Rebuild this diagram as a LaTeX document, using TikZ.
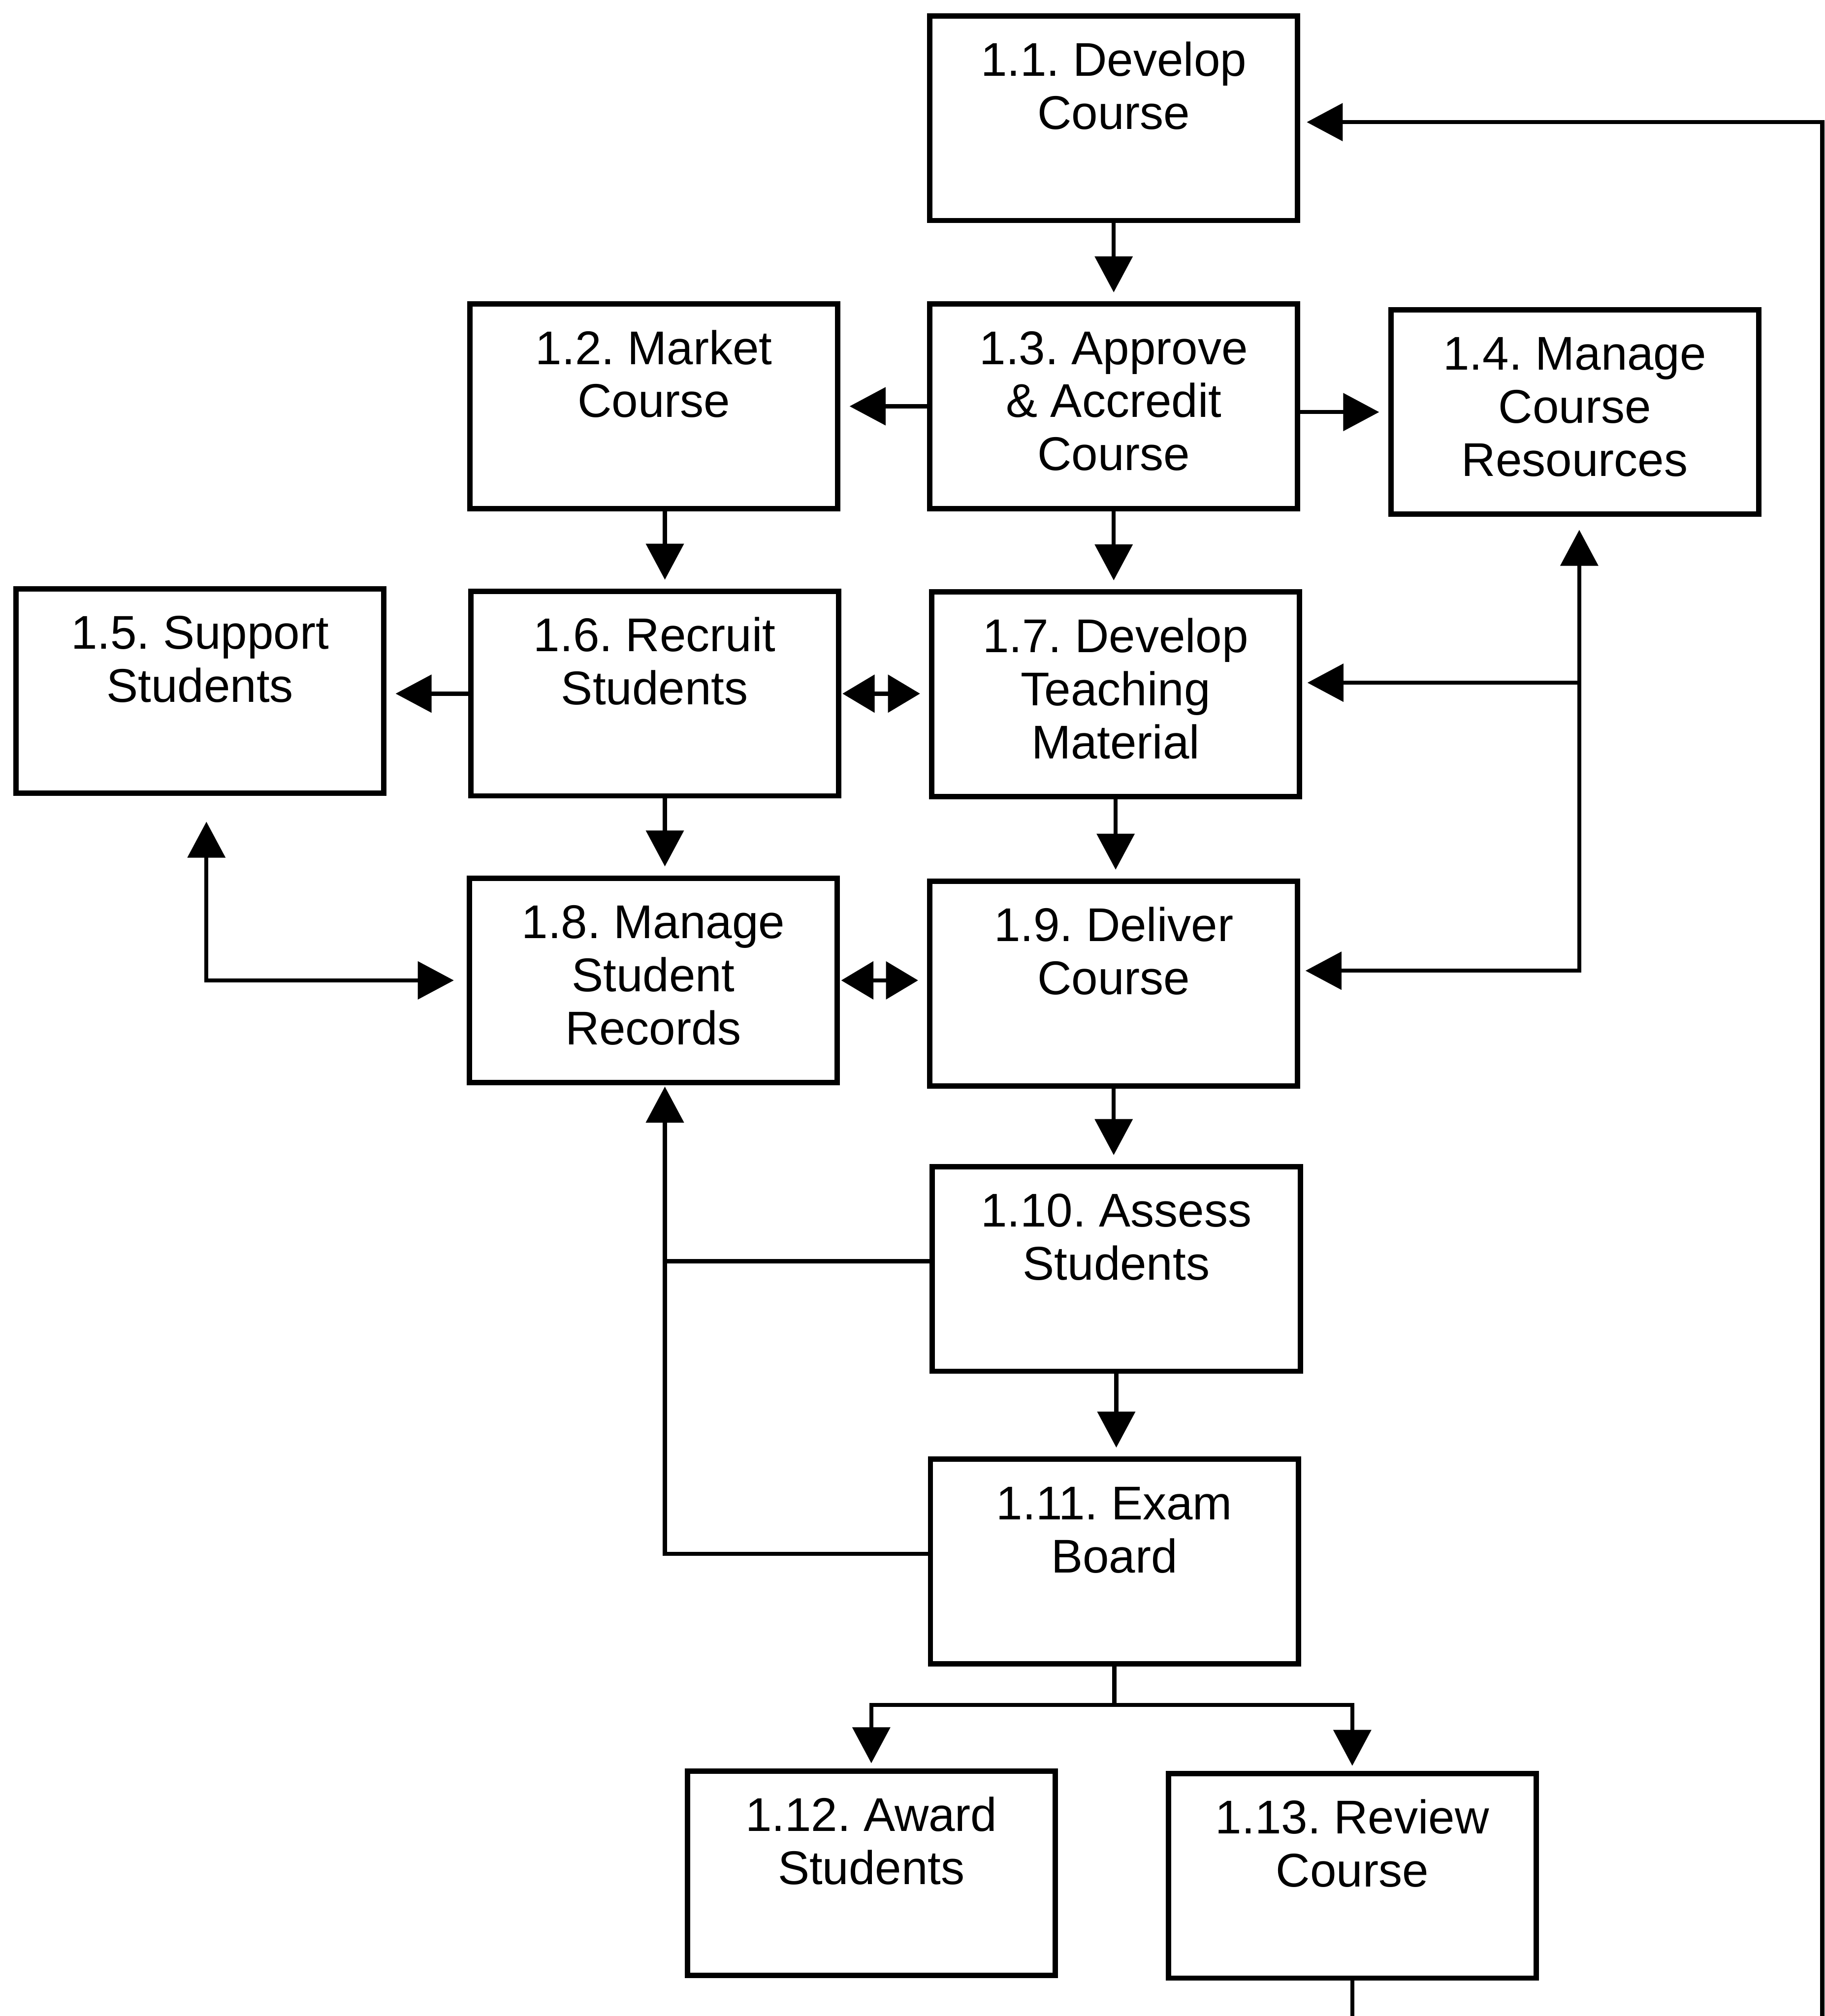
\documentclass[tikz,border=0pt]{standalone}
\usepackage{fontspec}
\setmainfont{Liberation Sans}
\usetikzlibrary{arrows.meta,calc}
\frenchspacing

\begin{document}
\begin{tikzpicture}[x=0.5pt,y=-0.5pt,
  box/.style={draw, line width=2.1pt, minimum width=143pt, minimum height=79.5pt, inner sep=0pt},
  lbl/.style={anchor=north, align=center, inner sep=0pt,
              font=\fontsize{18.4pt}{20.65pt}\selectfont},
  conn/.style={line width=1.6pt},
  tip/.tip={Triangle[length=14pt,width=14.5pt]},
  stip/.tip={Triangle[length=12.5pt,width=14.5pt]},
  arr/.style={conn, -tip, shorten >=3.5pt},
  dbl/.style={conn, stip-stip, shorten >=3.5pt, shorten <=0.5pt}]
\useasboundingbox (0,0) rectangle (1419,1568);

% process boxes
\node[box] (n11)  at (866,92)     {};
\node[box] (n12)  at (508.5,316)  {};
\node[box] (n13)  at (866,316)    {};
\node[box] (n14)  at (1224.5,320.5) {};
\node[box] (n15)  at (155.5,537.5) {};
\node[box] (n16)  at (509,539.5)  {};
\node[box] (n17)  at (867.5,540)  {};
\node[box] (n18)  at (508,762.5)  {};
\node[box] (n19)  at (866,765)    {};
\node[box] (n110) at (868,987)    {};
\node[box] (n111) at (866.5,1214.5) {};
\node[box] (n112) at (677.5,1457) {};
\node[box] (n113) at (1051.5,1459) {};

% box captions, set near the top edge
\node[lbl] (t11)  at ([yshift=-9.8pt]n11.north)  {\strut 1.1. Develop\\Course};
\node[lbl] (t12)  at ([yshift=-9.8pt]n12.north)  {\strut 1.2. Market\\Course};
\node[lbl] (t13)  at ([yshift=-9.8pt]n13.north)  {\strut 1.3. Approve\\\& Accredit\\Course};
\node[lbl] (t14)  at ([yshift=-9.8pt]n14.north)  {\strut 1.4. Manage\\Course\\Resources};
\node[lbl] (t15)  at ([yshift=-9.8pt]n15.north)  {\strut 1.5. Support\\Students};
\node[lbl] (t16)  at ([yshift=-9.8pt]n16.north)  {\strut 1.6. Recruit\\Students};
\node[lbl] (t17)  at ([yshift=-9.8pt]n17.north)  {\strut 1.7. Develop\\Teaching\\Material};
\node[lbl] (t18)  at ([yshift=-9.8pt]n18.north)  {\strut 1.8. Manage\\Student\\Records};
\node[lbl] (t19)  at ([yshift=-9.8pt]n19.north)  {\strut 1.9. Deliver\\Course};
\node[lbl] (t110) at ([yshift=-9.8pt]n110.north) {\strut 1.10. Assess\\Students};
\node[lbl] (t111) at ([yshift=-9.8pt]n111.north) {\strut 1.11. Exam\\Board};
\node[lbl] (t112) at ([yshift=-9.8pt]n112.north) {\strut 1.12. Award\\Students};
\node[lbl] (t113) at ([yshift=-9.8pt]n113.north) {\strut 1.13. Review\\Course};

% routing columns and turning points
\coordinate (lc) at (517,0);
\coordinate (rc) at (1228,0);
\coordinate (rt) at (1417,95);
\coordinate (s5) at ($(n15.south)+(5,0)$);
\coordinate (b17) at ($(n17.east)+(0,-9)$);
\coordinate (b19) at ($(n19.east)+(0,-10)$);
\coordinate (a10) at ($(n110.west)+(0,-6)$);
\coordinate (a11) at ($(n111.west)+(0,-6)$);
\coordinate (split) at ($(n111.south)+(0,30)$);

% main flow
\draw[arr] (n11.south) -- (n13.north);
\draw[arr] (n13.west) -- (n12.east);
\draw[arr] (n13.east |- n14.west) -- (n14.west);
\draw[arr] (lc |- n12.south) -- (lc |- n16.north);
\draw[arr] (n13.south) -- (n13.south |- n17.north);
\draw[arr] (n16.west) -- (n16.west -| n15.east);
\draw[dbl] (n16.east) -- (n16.east -| n17.west);
\draw[arr] (lc |- n16.south) -- (lc |- n18.north);
\draw[arr] (n17.south) -- (n17.south |- n19.north);
\draw[dbl] (n18.east) -- (n18.east -| n19.west);
\draw[conn, tip-tip, shorten <=10pt, shorten >=5pt] (s5) |- (n18.west);

% course resources bus
\draw[conn, tip-tip, shorten <=2pt, shorten >=5pt] (b19) -| (rc |- n14.south);
\draw[arr, shorten >=2pt] (b17 -| rc) -- (b17);

% delivery and assessment
\draw[arr] (n19.south) -- (n19.south |- n110.north);
\draw[arr] (n110.south) -- (n110.south |- n111.north);
\draw[conn] (a10) -- (a10 -| lc);
\draw[arr, shorten >=0.5pt] (a11) -| (lc |- n18.south);
\draw[arr, shorten >=2pt] (n111.south) -- (split) -| (n112.north);
\draw[arr, shorten >=2pt] (split) -| (n113.north);

% review loop back to course development
\draw[arr, shorten >=2.5pt] (n113.south) -- ++(0,60) -| (rt) -- (rt -| n11.east);
\end{tikzpicture}
\end{document}
